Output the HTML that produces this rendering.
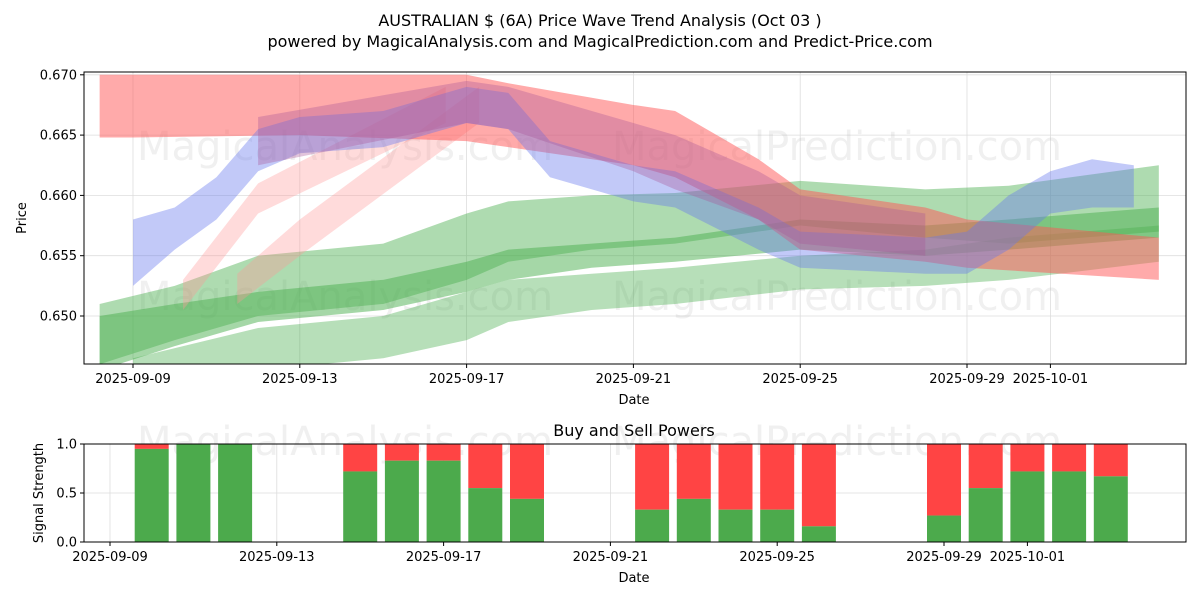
<!DOCTYPE html>
<html><head><meta charset="utf-8"><style>
body{margin:0;background:#fff;}
svg{display:block;font-family:"DejaVu Sans","Liberation Sans",sans-serif;}
</style></head><body>
<svg id="chart" width="1200" height="600" viewBox="0 0 1200 600">
<rect width="1200" height="600" fill="#fff"/>
<text x="600" y="26" text-anchor="middle" font-size="16">AUSTRALIAN $ (6A) Price Wave Trend Analysis (Oct 03 )</text>
<text x="600" y="47" text-anchor="middle" font-size="16">powered by MagicalAnalysis.com and MagicalPrediction.com and Predict-Price.com</text>
<defs><clipPath id="c1"><rect x="84" y="72" width="1102" height="292"/></clipPath></defs>
<g id="top"></g>
<g id="bot"></g>
</svg>
<script>
// ---- data ----
const tickDays = [0,4,8,12,16,20,22];
const tickLabels = ["2025-09-09","2025-09-13","2025-09-17","2025-09-21","2025-09-25","2025-09-29","2025-10-01"];
const priceTicks = [0.650,0.655,0.660,0.665,0.670];
const redDays = [-0.8,0,4,8,9,12,13,15,16,19,20,24.6];
const redLo = [0.6648,0.6648,0.6650,0.6645,0.6640,0.6625,0.6615,0.6580,0.6555,0.6545,0.6540,0.6530];
const redHi = [0.6700,0.6700,0.6700,0.6700,0.6693,0.6675,0.6670,0.6630,0.6605,0.6590,0.6580,0.6565];
const blueDays = [0,1,2,3,4,6,8,9,10,12,13,15,16,19,20,21,22,23,24];
const blueLo = [0.6525,0.6555,0.6580,0.6620,0.6635,0.6640,0.6660,0.6655,0.6615,0.6595,0.6590,0.6555,0.6540,0.6535,0.6535,0.6555,0.6585,0.6590,0.6590];
const blueHi = [0.6580,0.6590,0.6615,0.6655,0.6665,0.6670,0.6690,0.6685,0.6645,0.6625,0.6620,0.6590,0.6570,0.6565,0.6570,0.6600,0.6620,0.6630,0.6625];
const purpleDays = [3,8,9,12,13,15,16,19];
const purpleLo = [0.6625,0.6660,0.6655,0.6620,0.6605,0.6580,0.6560,0.6550];
const purpleHi = [0.6665,0.6695,0.6690,0.6660,0.6650,0.6620,0.6600,0.6585];
const pink1Days = [1.2,3,7.5];
const pink1Lo = [0.6505,0.6585,0.6660];
const pink1Hi = [0.6530,0.6610,0.6690];
const pink2Days = [2.5,4,8.3];
const pink2Lo = [0.6510,0.6550,0.6660];
const pink2Hi = [0.6535,0.6580,0.6690];
const gADays = [-0.8,1,3,6,8,9,11,13,16,19,21,24.6];
const gAHi = [0.6510,0.6525,0.6550,0.6560,0.6585,0.6595,0.6600,0.6602,0.6612,0.6605,0.6608,0.6625];
const gALo = [0.6460,0.6480,0.6500,0.6510,0.6530,0.6545,0.6555,0.6560,0.6575,0.6565,0.6560,0.6570];
const gBDays = [-0.8,1,3,6,8,9,11,13,16,19,21,24.6];
const gBHi = [0.6500,0.6510,0.6520,0.6530,0.6545,0.6555,0.6560,0.6565,0.6580,0.6575,0.6580,0.6590];
const gBLo = [0.6455,0.6475,0.6495,0.6505,0.6520,0.6530,0.6540,0.6545,0.6555,0.6550,0.6555,0.6565];
const gCDays = [0,3,6,8,9,11,13,16,19,21,24.6];
const gCHi = [0.6465,0.6490,0.6500,0.6520,0.6530,0.6535,0.6540,0.6550,0.6555,0.6565,0.6575];
const gCLo = [0.6440,0.6455,0.6465,0.6480,0.6495,0.6505,0.6510,0.6522,0.6525,0.6530,0.6545];
const barDays = [1,2,3,6,7,8,9,10,13,14,15,16,17,20,21,22,23,24];
const buyVals = [0.95,1.0,1.0,0.72,0.83,0.83,0.55,0.44,0.33,0.44,0.33,0.33,0.16,0.27,0.55,0.72,0.72,0.67];
const sigTicks = [0.0,0.5,1.0];

const NS="http://www.w3.org/2000/svg";
function mk(tag,attrs,parent){const e=document.createElementNS(NS,tag);for(const k in attrs)e.setAttribute(k,attrs[k]);parent.appendChild(e);return e;}
const gTop=document.getElementById('top'), gBot=document.getElementById('bot');
const L=84,R=1186,T1=72,B1=364,T2=444,B2=542;
const xT=d=>133+d*41.7, yT=p=>316-(p-0.650)/0.005*60.3;
const xB=d=>110+d*41.7, yB=v=>B2-v*(B2-T2);

tickDays.forEach((d,i)=>{
  const g=mk('line',{x1:xT(d),x2:xT(d),y1:T1,y2:B1,stroke:'#ddd','stroke-width':0.8},gTop);
  
  
  mk('line',{x1:xT(d),x2:xT(d),y1:B1,y2:B1+4,stroke:'#000'},gTop);
  const t=mk('text',{x:xT(d),y:B1+19,'text-anchor':'middle','font-size':13},gTop);
  t.textContent=tickLabels[i];
  
  
});
priceTicks.forEach(p=>{
  mk('line',{x1:L,x2:R,y1:yT(p),y2:yT(p),stroke:'#ddd','stroke-width':0.8},gTop);
  mk('line',{x1:L-4,x2:L,y1:yT(p),y2:yT(p),stroke:'#000'},gTop);
  const t=mk('text',{x:L-7,y:yT(p)+4.5,'text-anchor':'end','font-size':13},gTop);
  t.textContent=p.toFixed(3);
  
  
});
const wm=[[345,160,"MagicalAnalysis.com"],[837,160,"MagicalPrediction.com"],[345,310,"MagicalAnalysis.com"],[837,310,"MagicalPrediction.com"]];
wm.forEach(w=>{const t=mk('text',{x:w[0],y:w[1],'text-anchor':'middle','font-size':40,fill:'#999','fill-opacity':0.15},gTop);t.textContent=w[2];
  
  });
const bands=mk('g',{'clip-path':'url(#c1)'},gTop);
function band(days,lo,hi,color,op,name){
  let pts=days.map((d,i)=>xT(d)+','+yT(hi[i]));
  for(let i=days.length-1;i>=0;i--)pts.push(xT(days[i])+','+yT(lo[i]));
  const p=mk('polygon',{points:pts.join(' '),fill:color,'fill-opacity':op},bands);
  
  
}
band(gCDays,gCLo,gCHi,'#4caf50',0.4,'green-band-low');
band(gADays,gALo,gAHi,'#4caf50',0.45,'green-band-high');
band(gBDays,gBLo,gBHi,'#4caf50',0.5,'green-band-mid');
band(pink1Days,pink1Lo,pink1Hi,'#ff9999',0.35,'pink-band-1');
band(pink2Days,pink2Lo,pink2Hi,'#ff9999',0.35,'pink-band-2');
band(redDays,redLo,redHi,'#ff5555',0.5,'red-band');
band(blueDays,blueLo,blueHi,'#6677ee',0.4,'blue-band');
band(purpleDays,purpleLo,purpleHi,'#aa5599',0.35,'purple-band');
mk('rect',{x:L,y:T1,width:R-L,height:B1-T1,fill:'none',stroke:'#000','stroke-width':1},gTop);
let t=mk('text',{x:634,y:404,'text-anchor':'middle','font-size':13},gTop);t.textContent='Date';


t=mk('text',{x:26,y:218,'text-anchor':'middle','font-size':13,transform:'rotate(-90 26 218)'},gTop);t.textContent='Price';



t=mk('text',{x:634,y:436,'text-anchor':'middle','font-size':16},gBot);t.textContent='Buy and Sell Powers';


tickDays.forEach((d,i)=>{
  mk('line',{x1:xB(d),x2:xB(d),y1:T2,y2:B2,stroke:'#ddd','stroke-width':0.8},gBot);
  mk('line',{x1:xB(d),x2:xB(d),y1:B2,y2:B2+4,stroke:'#000'},gBot);
  const tt=mk('text',{x:xB(d),y:B2+19,'text-anchor':'middle','font-size':13},gBot);tt.textContent=tickLabels[i];
  
  
});
sigTicks.forEach(v=>{
  mk('line',{x1:L,x2:R,y1:yB(v),y2:yB(v),stroke:'#ddd','stroke-width':0.8},gBot);
  mk('line',{x1:L-4,x2:L,y1:yB(v),y2:yB(v),stroke:'#000'},gBot);
  const tt=mk('text',{x:L-7,y:yB(v)+4.5,'text-anchor':'end','font-size':13},gBot);tt.textContent=v.toFixed(1);
  
  
});
[[345,455,"MagicalAnalysis.com"],[837,455,"MagicalPrediction.com"]].forEach(w=>{const tt=mk('text',{x:w[0],y:w[1],'text-anchor':'middle','font-size':40,fill:'#999','fill-opacity':0.15},gBot);tt.textContent=w[2];
  
  });
barDays.forEach((d,i)=>{
  const x=xB(d)-17,w=34;
  const r=mk('rect',{x:x,y:yB(1),width:w,height:yB(buyVals[i])-yB(1),fill:'#ff4444'},gBot);
  
  
  const g=mk('rect',{x:x,y:yB(buyVals[i]),width:w,height:yB(0)-yB(buyVals[i]),fill:'#4caa4c'},gBot);
  
  
});
mk('rect',{x:L,y:T2,width:R-L,height:B2-T2,fill:'none',stroke:'#000','stroke-width':1},gBot);
t=mk('text',{x:634,y:582,'text-anchor':'middle','font-size':13},gBot);t.textContent='Date';


t=mk('text',{x:43,y:493,'text-anchor':'middle','font-size':13,transform:'rotate(-90 43 493)'},gBot);t.textContent='Signal Strength';


</script>
</body></html>
